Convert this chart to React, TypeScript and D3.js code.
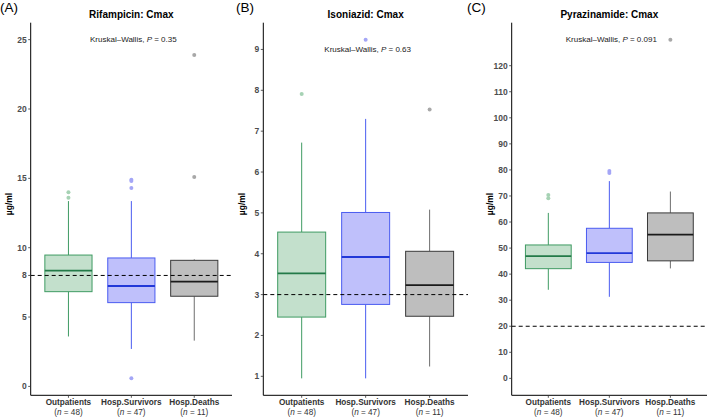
import React from 'react'
import * as d3 from 'd3'

// groups shared by all three panels
const groups = ['Outpatients', 'Hosp.Survivors', 'Hosp.Deaths']
const groupN = [48, 47, 11]

// Rifampicin Cmax (µg/ml)
const rifLower = [3.6, 2.7, 3.3]
const rifQ1 = [6.83, 6.04, 6.5]
const rifMedian = [8.35, 7.24, 7.55]
const rifQ3 = [9.47, 9.26, 9.09]
const rifUpper = [13.36, 13.36, 9.16]
const rifOutliers = [[14.0, 13.6], [14.9, 14.8, 14.3, 0.58], [15.1, 23.9]]
const rifTicks = [0, 5, 8, 10, 15, 20, 25]

// Isoniazid Cmax
const inhLower = [0.95, 0.95, 1.24]
const inhQ1 = [2.45, 2.76, 2.47]
const inhMedian = [3.52, 3.92, 3.23]
const inhQ3 = [4.53, 5.01, 4.06]
const inhUpper = [6.72, 7.3, 5.08]
const inhOutliers = [[7.91], [9.24], [7.53]]
const inhTicks = [1, 2, 3, 4, 5, 6, 7, 8, 9]

// Pyrazinamide Cmax
const pzaLower = [34.0, 31.3, 42.2]
const pzaQ1 = [42.1, 44.5, 45.1]
const pzaMedian = [46.9, 48.1, 55.2]
const pzaQ3 = [51.2, 57.6, 63.5]
const pzaUpper = [63.5, 75.7, 71.7]
const pzaOutliers = [[70.4, 69.1], [79.6, 78.8], [130.0]]
const pzaTicks = [0, 10, 20, 30, 40, 50, 60, 70, 80, 90, 100, 110, 120]

const panels = [
  {
    tag: '(A)', title: 'Rifampicin: Cmax', p: '0.35', pY: 25, target: 8, extra: [],
    lower: rifLower, q1: rifQ1, median: rifMedian, q3: rifQ3, upper: rifUpper,
    outliers: rifOutliers, ticks: rifTicks,
    left: 30.7, right: 232, tagX: 0,
  },
  {
    tag: '(B)', title: 'Isoniazid: Cmax', p: '0.63', pY: 9, target: 3, extra: [],
    lower: inhLower, q1: inhQ1, median: inhMedian, q3: inhQ3, upper: inhUpper,
    outliers: inhOutliers, ticks: inhTicks,
    left: 263.3, right: 468, tagX: 236,
  },
  {
    tag: '(C)', title: 'Pyrazinamide: Cmax', p: '0.091', pY: 130, target: 20, extra: [0],
    lower: pzaLower, q1: pzaQ1, median: pzaMedian, q3: pzaQ3, upper: pzaUpper,
    outliers: pzaOutliers, ticks: pzaTicks,
    left: 511.7, right: 707, tagX: 467,
  },
]

const fills = ['#c3e0cc', '#bfc0fb', '#bebebe']
const strokes = ['#3f9b63', '#4a5cf0', '#3a3a3a']
const medians = ['#237a48', '#2238d8', '#1a1a1a']
const whiskers = ['#3f9b63', '#4a5cf0', '#6e6e6e']
const dots = ['#a6d2b4', '#a4a6f6', '#a8a8a8']

const top = 22.7
const bottom = 395.3
const font = '"Liberation Sans", Arial, sans-serif'

const Panel = ({ cfg }) => {
  const all = [
    ...cfg.lower, ...cfg.upper, ...cfg.outliers.flat(), cfg.pY, ...cfg.extra,
  ]
  const [lo, hi] = d3.extent(all)
  const pad = (hi - lo) * 0.05
  const y = d3.scaleLinear().domain([lo - pad, hi + pad]).range([bottom, top])
  const x = d3.scalePoint().domain(groups).range([cfg.left, cfg.right]).padding(0.6)
  const bw = x.step() * 0.75

  return (
    <g>
      <text x={cfg.tagX} y={11.5} fontSize={13.5} fill="#000">{cfg.tag}</text>
      <text x={x(groups[1])} y={17.5} fontSize={10} fontWeight="bold" textAnchor="middle" fill="#000">
        {cfg.title}
      </text>

      {groups.map((g, i) => {
        const cx = x(g)
        return (
          <g key={g}>
            <line x1={cx} x2={cx} y1={y(cfg.upper[i])} y2={y(cfg.q3[i])} stroke={whiskers[i]} strokeWidth={1} />
            <line x1={cx} x2={cx} y1={y(cfg.q1[i])} y2={y(cfg.lower[i])} stroke={whiskers[i]} strokeWidth={1} />
            <rect
              x={cx - bw / 2} width={bw}
              y={y(cfg.q3[i])} height={y(cfg.q1[i]) - y(cfg.q3[i])}
              fill={fills[i]} stroke={strokes[i]} strokeWidth={1}
            />
            <line x1={cx - bw / 2} x2={cx + bw / 2} y1={y(cfg.median[i])} y2={y(cfg.median[i])}
              stroke={medians[i]} strokeWidth={1.8} />
            {cfg.outliers[i].map((v, k) => (
              <circle key={k} cx={cx} cy={y(v)} r={2} fill={dots[i]} />
            ))}
          </g>
        )
      })}

      <line x1={cfg.left} x2={cfg.right} y1={y(cfg.target)} y2={y(cfg.target)}
        stroke="#000" strokeWidth={1} strokeDasharray="4,3" />

      {/* axes */}
      <line x1={cfg.left} x2={cfg.left} y1={top} y2={bottom} stroke="#000" strokeWidth={1} />
      <line x1={cfg.left} x2={cfg.right} y1={bottom} y2={bottom} stroke="#000" strokeWidth={1} />
      {cfg.ticks.map((t) => (
        <g key={t}>
          <line x1={cfg.left - 2.5} x2={cfg.left} y1={y(t)} y2={y(t)} stroke="#333" strokeWidth={0.8} />
          <text x={cfg.left - 4} y={y(t)} dy="0.35em" textAnchor="end" fontSize={8.5}
            fontWeight="bold" fill="#4d4d4d">{t}</text>
        </g>
      ))}
      {groups.map((g, i) => (
        <g key={g}>
          <line x1={x(g)} x2={x(g)} y1={bottom} y2={bottom + 2.5} stroke="#333" strokeWidth={0.8} />
          <text x={x(g)} y={405} textAnchor="middle" fontSize={8.2} fontWeight="bold" fill="#333">{g}</text>
          <text x={x(g)} y={415} textAnchor="middle" fontSize={8.2} fill="#333">
            (<tspan fontStyle="italic">n</tspan> = {groupN[i]})
          </text>
        </g>
      ))}
      <text
        transform={`translate(${cfg.left - 18.5},204) rotate(-90)`}
        textAnchor="middle" fontSize={8.5} fontWeight="bold" fill="#000"
      >µg/ml</text>

      <text x={x(groups[1]) + 2} y={y(cfg.pY)} dy="0.35em" textAnchor="middle" fontSize={8} fill="#222">
        Kruskal–Wallis, <tspan fontStyle="italic">P</tspan> = {cfg.p}
      </text>
    </g>
  )
}

export default function App() {
  return (
    <svg width={709} height={418} style={{ position: 'absolute', left: 0, top: 0, background: '#fff' }}
      fontFamily={font}>
      <rect width={709} height={418} fill="#fff" />
      {panels.map((p) => <Panel key={p.tag} cfg={p} />)}
    </svg>
  )
}
